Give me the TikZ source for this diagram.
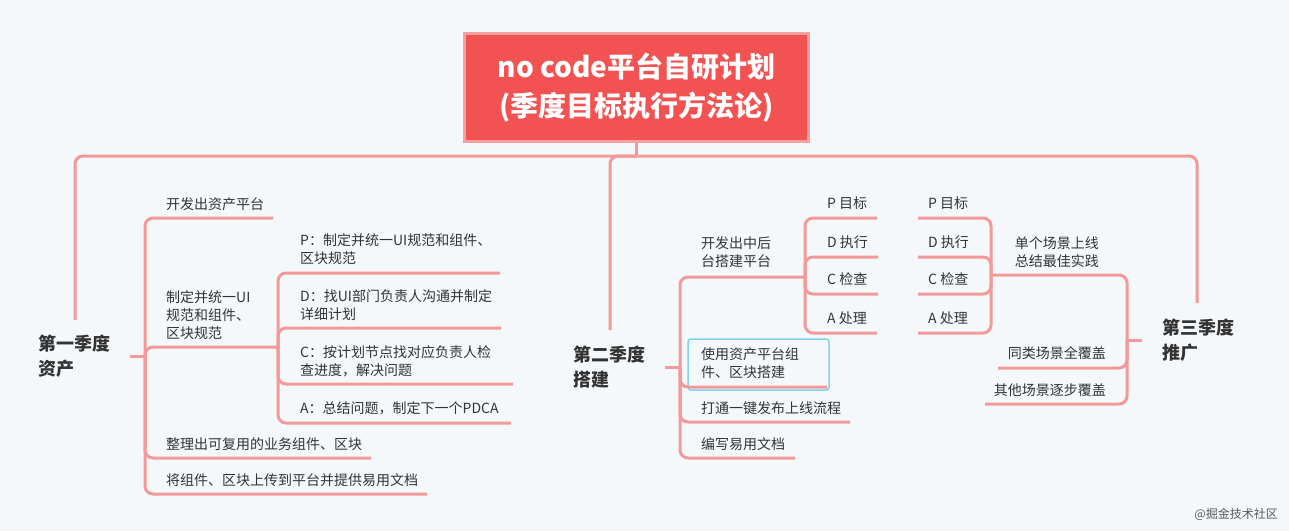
\documentclass[tikz,border=0pt]{standalone}
\usepackage{fontspec}
\setmainfont{Noto Sans CJK SC}
\definecolor{bg}{RGB}{245,248,250}
\definecolor{linec}{RGB}{243,153,153}
\definecolor{rootfill}{RGB}{243,82,82}
\definecolor{rootborder}{RGB}{248,160,160}
\definecolor{textc}{RGB}{51,51,51}
\definecolor{selc}{RGB}{130,210,240}
\tikzset{
  conn/.style={draw=linec, line width=3pt, rounded corners=8pt},
  txt/.style={inner sep=0pt, font=\fontsize{14}{18}\selectfont, text=textc, align=left},
  rtxt/.style={txt, anchor=east, align=center},
  ltxt/.style={txt, anchor=west},
  qlabel/.style={inner sep=0pt, anchor=west, align=left, text=textc, font=\fontsize{18}{25}\selectfont\bfseries},
  rootbox/.style={draw=rootborder, line width=3pt, fill=rootfill, text=white, align=center,
    minimum width=344pt, minimum height=108pt, inner sep=0pt, font=\fontsize{28}{39}\selectfont\bfseries},
  wmark/.style={inner sep=0pt, anchor=east, text=black!65, font=\fontsize{12}{14}\selectfont}
}
\begin{document}
\begin{tikzpicture}[x=1pt,y=-1pt]
\fill[bg] (0,0) rectangle (1289,531);
\useasboundingbox (0,0) rectangle (1289,531);

% root
\node[rootbox] (root) at (636.5,87.5) {no code平台自研计划\\(季度目标执行方法论)};

% quarter labels
\node[qlabel] (q1) at (38,356.5) {第一季度\\资产};
\node[qlabel] (q2) at (573,367) {第二季度\\搭建};
\node[qlabel] (q3) at (1162,340) {第三季度\\推广};

% Q1 children
\node[ltxt] (a1) at (166,204) {开发出资产平台};
\node[ltxt] (a2) at (166,315) {制定并统一UI\\规范和组件、\\区块规范};
\node[ltxt] (b1) at (300,249) {P：制定并统一UI规范和组件、\\区块规范};
\node[ltxt] (b2) at (300,305) {D：找UI部门负责人沟通并制定\\详细计划};
\node[ltxt] (b3) at (300,361) {C：按计划节点找对应负责人检\\查进度，解决问题};
\node[ltxt] (b4) at (300,408) {A：总结问题，制定下一个PDCA};
\node[ltxt] (a3) at (166,444) {整理出可复用的业务组件、区块};
\node[ltxt] (a4) at (166,480) {将组件、区块上传到平台并提供易用文档};

% Q2 children
\node[ltxt] (c1) at (701,252) {开发出中后\\台搭建平台};
\node[ltxt] (c2) at (701,363) {使用资产平台组\\件、区块搭建};
\node[ltxt] (c3) at (701,408) {打通一键发布上线流程};
\node[ltxt] (c4) at (701,444) {编写易用文档};
\node[ltxt] (p1) at (827,203) {P 目标};
\node[ltxt] (p2) at (827,242) {D 执行};
\node[ltxt] (p3) at (827,279) {C 检查};
\node[ltxt] (p4) at (827,318) {A 处理};
\node[ltxt] (r1) at (928,203) {P 目标};
\node[ltxt] (r2) at (928,242) {D 执行};
\node[ltxt] (r3) at (928,279) {C 检查};
\node[ltxt] (r4) at (928,318) {A 处理};

% Q3 children
\node[rtxt] (d1) at (1099,252) {单个场景上线\\总结最佳实践};
\node[rtxt] (d2) at (1106,353) {同类场景全覆盖};
\node[rtxt] (d3) at (1106,390) {其他场景逐步覆盖};

% watermark
\node[wmark] (wm) at (1278,514) {@掘金技术社区};

% selection box
\draw[selc, line width=1.5pt, rounded corners=3pt] (688,339) rectangle (829,390);

% coordinates
\coordinate (hub) at (636.5,156);
\coordinate (q1top) at (75,320);
\coordinate (q2top) at (610,330);
\coordinate (q3top) at (1197,303);

\coordinate (q1s) at (130,356);
\coordinate (q1j) at (145,356);
\coordinate (a1e) at (273,218);
\coordinate (a2j) at (278,347);
\coordinate (b1e) at (500,273);
\coordinate (b2e) at (501,328);
\coordinate (b3e) at (513,384);
\coordinate (b4e) at (511,423);
\coordinate (a3e) at (371,458);
\coordinate (a4e) at (427,494);

\coordinate (q2s) at (665,367);
\coordinate (q2j) at (680,367);
\coordinate (c1j) at (805,277);
\coordinate (c2e) at (827,387);
\coordinate (c3e) at (850,422);
\coordinate (c4e) at (795,458);
\coordinate (p1e) at (877,218);
\coordinate (p2e) at (878,257);
\coordinate (p3e) at (878,294);
\coordinate (p4e) at (877,333);

\coordinate (q3s) at (1142,340);
\coordinate (q3j) at (1127,340);
\coordinate (d1j) at (991,275);
\coordinate (d2e) at (998,368);
\coordinate (d3e) at (985,404);
\coordinate (r1e) at (918,218);
\coordinate (r2e) at (918,257);
\coordinate (r3e) at (918,294);
\coordinate (r4e) at (918,333);

% root connectors
\draw[conn] (root.south) -- (hub);
\draw[conn] (q1top) |- (hub);
\draw[conn] (q3top) |- (hub);
\draw[conn] (q2top) |- (hub);

% Q1
\draw[conn] (q1s) -- (q1j);
\draw[conn] (q1j) |- (a1e);
\draw[conn] (q1j) |- (a2j);
\draw[conn] (q1j) |- (a3e);
\draw[conn] (q1j) |- (a4e);
\draw[conn] (a2j) |- (b1e);
\draw[conn] (a2j) |- (b2e);
\draw[conn] (a2j) |- (b3e);
\draw[conn] (a2j) |- (b4e);

% Q2
\draw[conn] (q2s) -- (q2j);
\draw[conn] (q2j) |- (c1j);
\draw[conn] (q2j) |- (c2e);
\draw[conn] (q2j) |- (c3e);
\draw[conn] (q2j) |- (c4e);
\draw[conn] (c1j) |- (p1e);
\draw[conn] (c1j) |- (p2e);
\draw[conn] (c1j) |- (p3e);
\draw[conn] (c1j) |- (p4e);

% Q3
\draw[conn] (q3s) -- (q3j);
\draw[conn] (q3j) |- (d1j);
\draw[conn] (q3j) |- (d2e);
\draw[conn] (q3j) |- (d3e);
\draw[conn] (d1j) |- (r1e);
\draw[conn] (d1j) |- (r2e);
\draw[conn] (d1j) |- (r3e);
\draw[conn] (d1j) |- (r4e);
\end{tikzpicture}
\end{document}
